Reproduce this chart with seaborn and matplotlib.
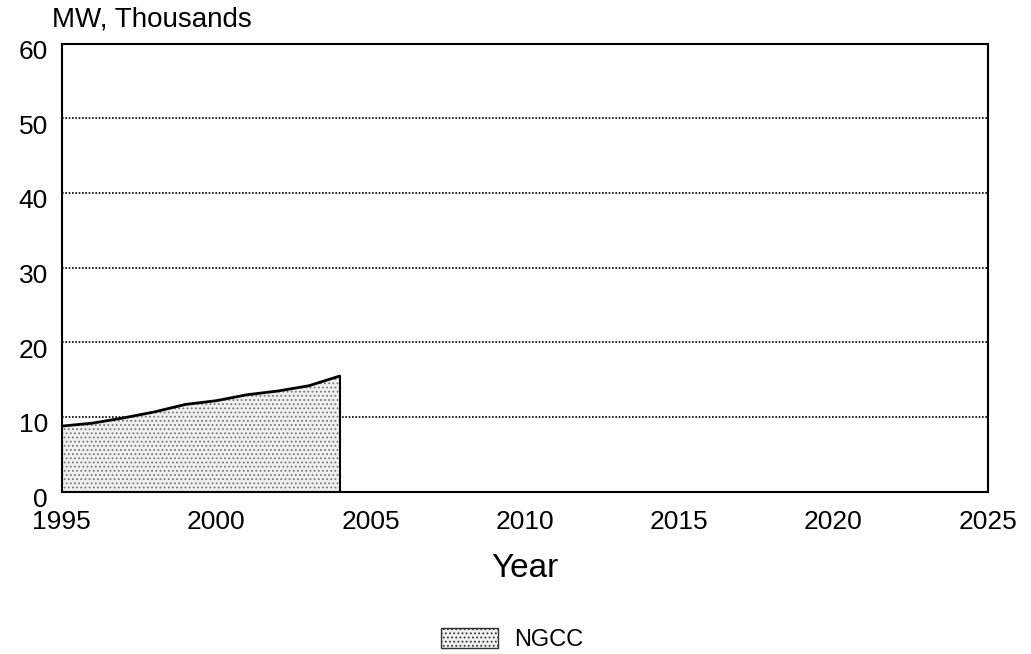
import numpy as np
import pandas as pd
import seaborn as sns
import matplotlib.pyplot as plt
from matplotlib.patches import Patch
from matplotlib.transforms import ScaledTranslation

years = [1995, 1996, 1997, 1998, 1999, 2000, 2001, 2002, 2003, 2004]
ngcc = [8.8, 9.2, 9.9, 10.7, 11.7, 12.2, 13.0, 13.5, 14.2, 15.5]
y_ticks = [0, 10, 20, 30, 40, 50, 60]
x_ticks = [1995, 2000, 2005, 2010, 2015, 2020, 2025]

df = pd.DataFrame({'Year': years, 'NGCC': ngcc})

sns.set_style('white')
plt.rcParams['font.family'] = ['Liberation Sans', 'DejaVu Sans']
plt.rcParams['text.color'] = 'black'
plt.rcParams['hatch.color'] = '#555555'
plt.rcParams['hatch.linewidth'] = 0.8

fig = plt.figure(figsize=(10.31, 6.54), dpi=100)
ax = fig.add_axes([0.060, 0.248, 0.898, 0.685])

# dotted area + outline
ax.fill_between(df['Year'], 0, df['NGCC'], facecolor='#f0f0f0',
                hatch='....', edgecolor='#777777', linewidth=0)
sns.lineplot(data=df, x='Year', y='NGCC', ax=ax, color='black', linewidth=2)
ax.plot([years[-1], years[-1]], [0, ngcc[-1]], color='black', linewidth=1.5)

for v in y_ticks[1:-1]:
    ax.axhline(v, color='black', linewidth=1.2, linestyle=(0, (1, 1)), zorder=0)

ax.set_xlim(1995, 2025)
ax.set_ylim(0, 60)
ax.set_xticks(x_ticks)
ax.set_yticks(y_ticks)
ax.tick_params(axis='x', direction='in', length=10, width=1.5, labelsize=19,
               pad=13, labelcolor='black')
ax.tick_params(axis='y', length=0, labelsize=19, pad=10, labelcolor='black')
shift = ScaledTranslation(0, -4 / 72, fig.dpi_scale_trans)
for lbl in ax.get_yticklabels():
    lbl.set_transform(lbl.get_transform() + shift)
for s in ax.spines.values():
    s.set_color('black')
    s.set_linewidth(1.5)

ax.set_xlabel('Year', fontsize=24, labelpad=14, color='black')
ax.set_ylabel('')
fig.text(0.050, 0.950, 'MW, Thousands', fontsize=20, ha='left', va='bottom')

handles = [Patch(facecolor='#f0f0f0', edgecolor='#333333', hatch='....', label='NGCC')]
fig.legend(handles=handles, loc='center', bbox_to_anchor=(0.497, 0.022), frameon=False,
           fontsize=17, handlelength=2.4, handleheight=0.9, handletextpad=0.7)

fig.savefig('out.png', dpi=100)
